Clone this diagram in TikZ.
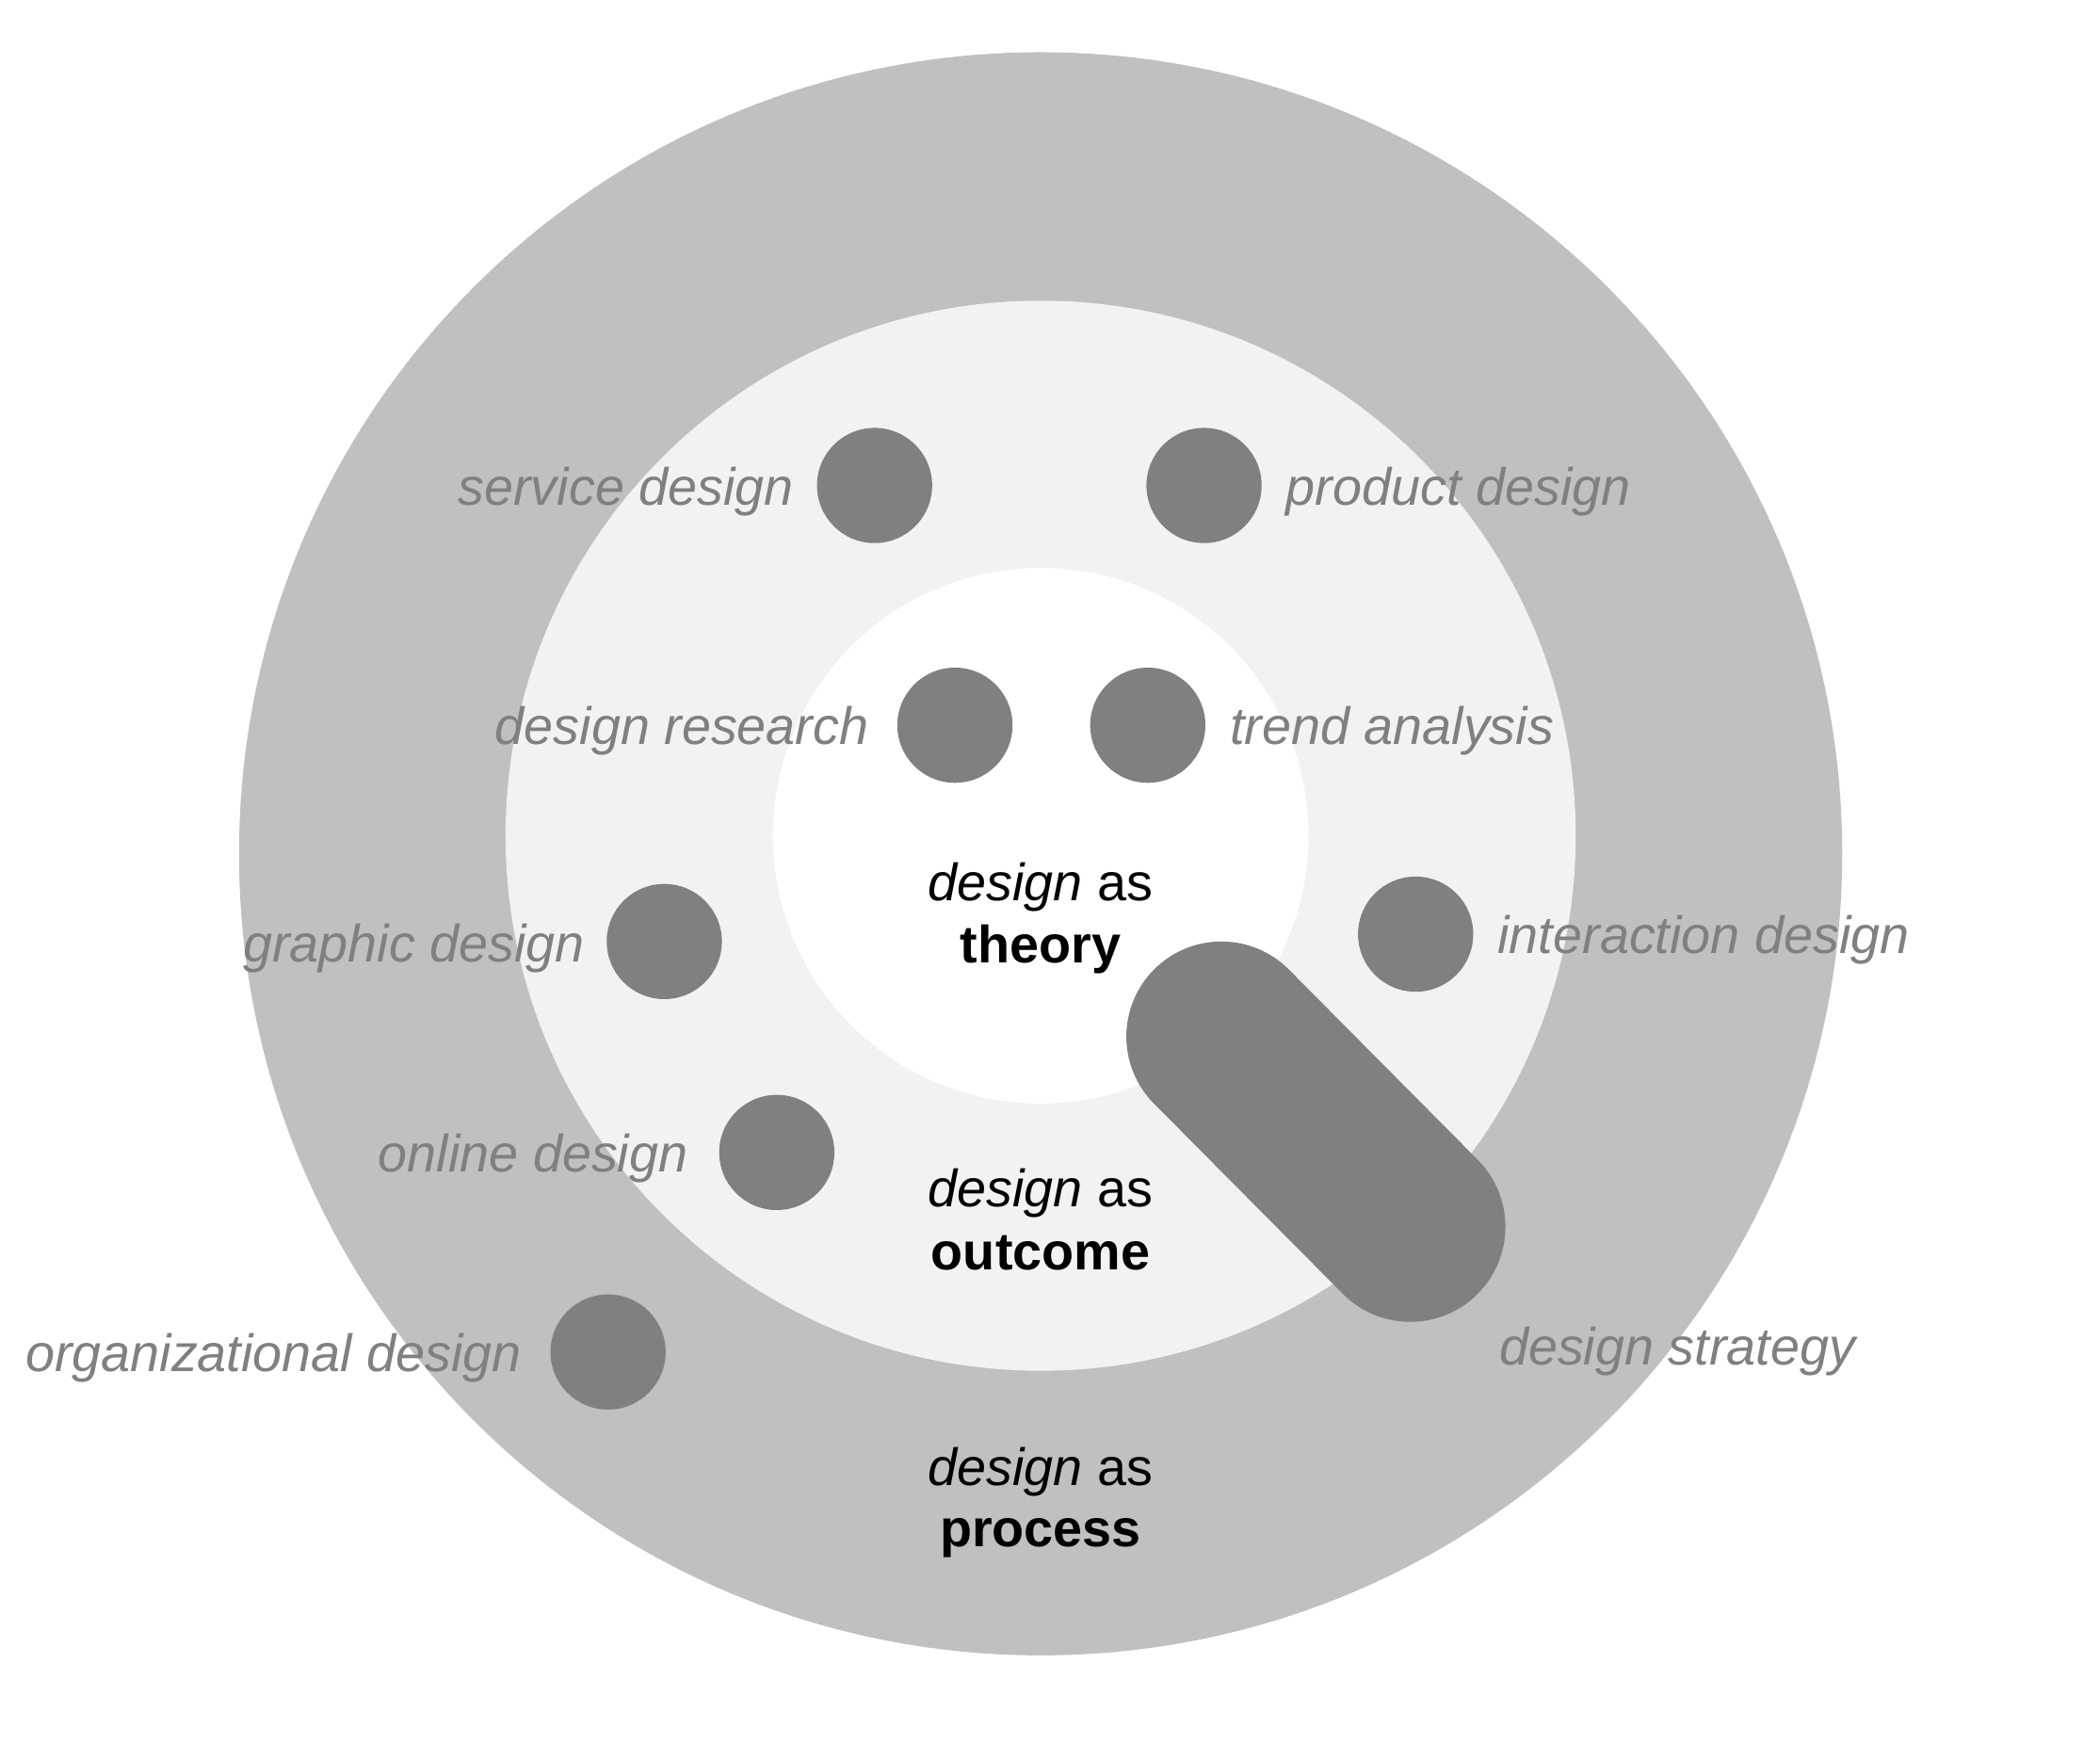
\documentclass[tikz,border=0pt]{standalone}
\usepackage{fontspec}
\setmainfont{Liberation Sans}
\definecolor{ringout}{HTML}{C0C0C0}
\definecolor{ringmid}{HTML}{F2F2F2}
\definecolor{dotgray}{HTML}{808080}
\definecolor{labgray}{HTML}{808080}
\begin{document}
\begin{tikzpicture}[x=0.5pt,y=-0.5pt,
  dot/.style={circle,fill=dotgray,inner sep=0pt,minimum size=43pt},
  lab/.style={inner sep=0pt,text=labgray,font=\fontsize{19.6}{23.5}\selectfont\itshape},
  ctr/.style={inner sep=0pt,text=black,font=\fontsize{19.6}{23.5}\selectfont,anchor=base}]
\useasboundingbox (0,0) rectangle (1568,1314);
\fill[white] (0,0) rectangle (1568,1314);
% rings
\fill[ringout] (777,637.5) circle[radius=598.5];
\fill[ringmid] (777,624) circle[radius=399.5];
\fill[white] (777,624) circle[radius=200];
% centre texts
\node[ctr] (t1) at (777,672.5) {\itshape design\upshape{} as};
\node[ctr] (t2) at (777,719) {\bfseries theory};
\node[ctr] (o1) at (777,901) {\itshape design\upshape{} as};
\node[ctr] (o2) at (777,948) {\bfseries outcome};
\node[ctr] (p1) at (777,1109) {\itshape design\upshape{} as};
\node[ctr] (p2) at (777,1155) {\bfseries process};
% capsule
\coordinate (capA) at (912,774);
\coordinate (capB) at (1053,916);
\draw[dotgray,line width=71pt,line cap=round] (capA) -- (capB);
% dots
\node[dot] (serv) at (653,362.5) {};
\node[dot] (prod) at (899,362.5) {};
\node[dot] (res) at (713,541.5) {};
\node[dot] (trend) at (857,541.5) {};
\node[dot] (graph) at (496,703) {};
\node[dot] (inter) at (1057,697.5) {};
\node[dot] (onl) at (580,860.5) {};
\node[dot] (org) at (454,1009.5) {};
% labels
\node[lab,anchor=base east] (lserv) at (593,377) {service design};
\node[lab,anchor=base west] (lprod) at (960,377) {product design};
\node[lab,anchor=base east] (lres) at (649,556) {design research};
\node[lab,anchor=base west] (ltrend) at (918,556) {trend analysis};
\node[lab,anchor=base east] (lgraph) at (437,718) {graphic design};
\node[lab,anchor=base west] (linter) at (1118,712) {interaction design};
\node[lab,anchor=base east] (lonl) at (514,875) {online design};
\node[lab,anchor=base east] (lorg) at (390,1024) {organizational design};
\node[lab,anchor=base west] (lstrat) at (1119,1019) {design strategy};
\end{tikzpicture}
\end{document}
